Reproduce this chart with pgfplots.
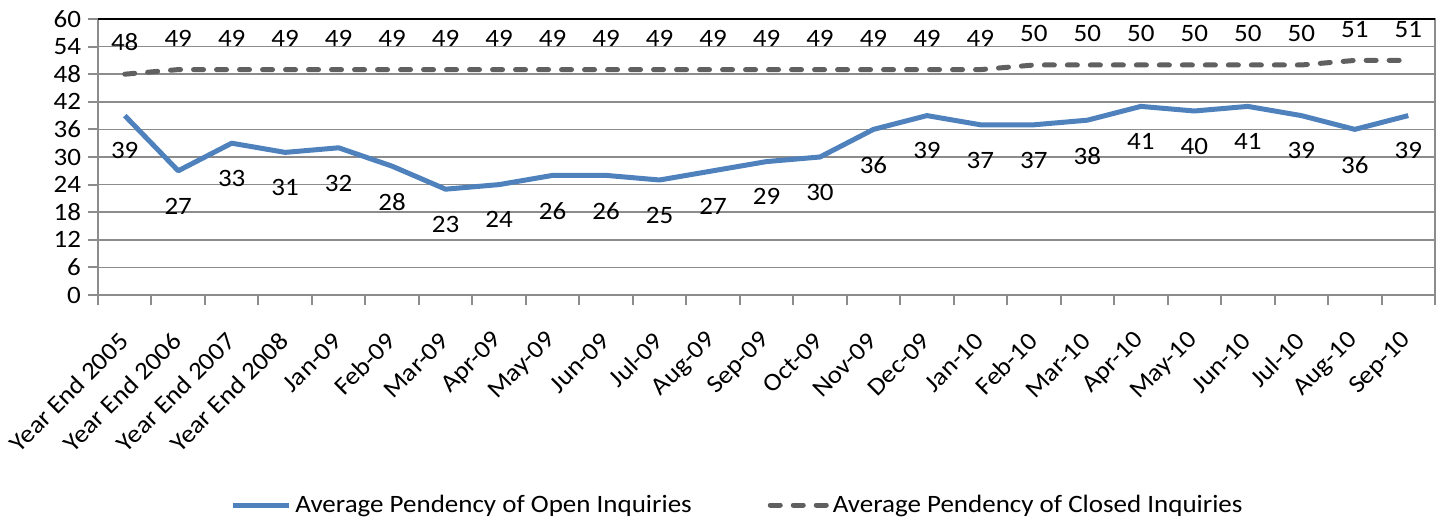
\documentclass[border=0pt]{standalone}
\usepackage{fontspec}
\setmainfont[FakeStretch=1.08]{Carlito}
\usepackage{pgfplots}
\pgfplotsset{compat=1.18}
\definecolor{openblue}{RGB}{79,129,189}
\definecolor{closedgray}{RGB}{96,96,96}
\definecolor{gridgray}{RGB}{140,140,140}
\begin{document}
\begin{tikzpicture}
\path[use as bounding box] (0pt,0pt) rectangle (723pt,261.5pt);
\begin{axis}[
  at={(49pt,114pt)}, anchor=south west,
  scale only axis, width=668.5pt, height=138pt,
  xmin=-0.5, xmax=24.5, ymin=0, ymax=60,
  ytick={0,6,...,60},
  xtick={0,...,24},
  xticklabels={Year End 2005,Year End 2006,Year End 2007,Year End 2008,Jan-09,Feb-09,Mar-09,Apr-09,May-09,Jun-09,Jul-09,Aug-09,Sep-09,Oct-09,Nov-09,Dec-09,Jan-10,Feb-10,Mar-10,Apr-10,May-10,Jun-10,Jul-10,Aug-10,Sep-10},
  x tick label style={xshift=2pt, yshift=-13.5pt, rotate=45, anchor=east, font=\fontsize{12.5}{15}\selectfont},
  y tick label style={font=\fontsize{12.5}{15}\selectfont},
  /pgf/number format/assume math mode=true,
  xtick style={draw=none},
  extra x ticks={-0.5,0.5,...,24.5},
  extra x tick labels={},
  extra x tick style={grid=none, xtick style={draw=gridgray, line width=1pt}, major tick length=5pt, tick align=outside},
  ytick style={draw=gridgray, line width=1pt},
  tick align=outside, major tick length=5pt,
  xtick pos=bottom, ytick pos=left,
  ymajorgrids, grid style={gridgray, line width=0.8pt},
  axis line style={gridgray, line width=1.2pt},
  clip=false,
  legend style={at={(axis description cs:0.479,-0.761)}, anchor=center, draw=none, fill=none,
    font=\fontsize{12.5}{15}\selectfont, legend columns=2,
    /tikz/every even column/.append style={column sep=36pt}},
  legend image code/.code={\draw[#1] (0pt,0pt) -- (28pt,0pt);},
  every node near coord/.append style={font=\fontsize{12.5}{15}\selectfont, black},
  after end axis/.code={\draw[black, line width=1.2pt] (rel axis cs:0,1) -- (rel axis cs:1,1);},
]
\addplot[openblue, line width=2.5pt, line join=round, mark=none,
  nodes near coords, every node near coord/.append style={anchor=north, yshift=-9pt}]
  coordinates {(0,39)(1,27)(2,33)(3,31)(4,32)(5,28)(6,23)(7,24)(8,26)(9,26)(10,25)(11,27)(12,29)(13,30)(14,36)(15,39)(16,37)(17,37)(18,38)(19,41)(20,40)(21,41)(22,39)(23,36)(24,39)};
\addlegendentry{Average Pendency of Open Inquiries}
\addplot[closedgray, line width=2.5pt, line cap=round, dash pattern=on 5pt off 6.5pt, mark=none,
  nodes near coords, every node near coord/.append style={anchor=south, yshift=7pt}]
  coordinates {(0,48)(1,49)(2,49)(3,49)(4,49)(5,49)(6,49)(7,49)(8,49)(9,49)(10,49)(11,49)(12,49)(13,49)(14,49)(15,49)(16,49)(17,50)(18,50)(19,50)(20,50)(21,50)(22,50)(23,51)(24,51)};
\addlegendentry{Average Pendency of Closed Inquiries}
\end{axis}
\end{tikzpicture}
\end{document}
